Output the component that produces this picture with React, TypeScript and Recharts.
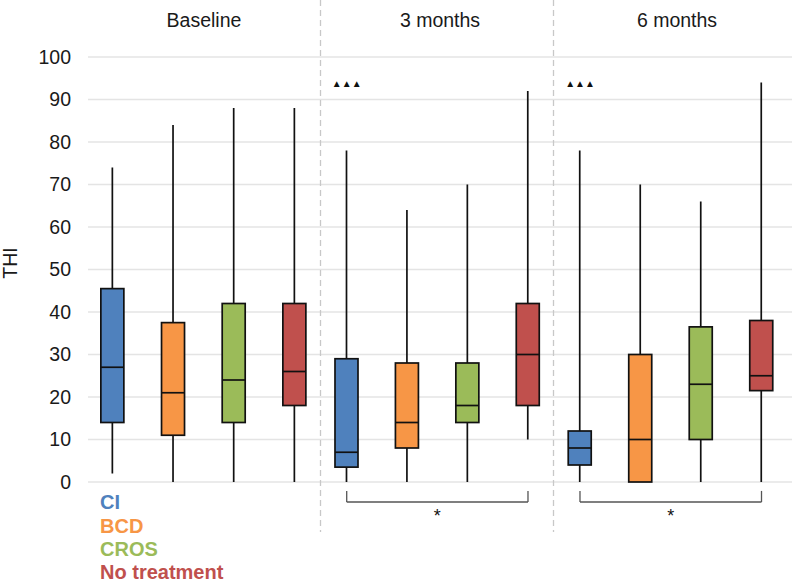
import React from 'react';
import { ComposedChart, Bar, XAxis, YAxis, CartesianGrid, ReferenceLine, ReferenceDot } from 'recharts';

const groups = ['CI', 'BCD', 'CROS', 'No treatment'];
const periods = ['Baseline', '3 months', '6 months'];

// five-number summaries per group: [low whisker, Q1, median, Q3, high whisker]
const baseline = [
    [2, 14, 27, 45.5, 74],
    [0, 11, 21, 37.5, 84],
    [0, 14, 24, 42, 88],
    [0, 18, 26, 42, 88],
];
const threeMonths = [
    [0, 3.5, 7, 29, 78],
    [0, 8, 14, 28, 64],
    [0, 14, 18, 28, 70],
    [10, 18, 30, 42, 92],
];
const sixMonths = [
    [0, 4, 8, 12, 78],
    [0, 0, 10, 30, 70],
    [0, 10, 23, 36.5, 66],
    [0, 21.5, 25, 38, 94],
];
const periodStats = [baseline, threeMonths, sixMonths];

const yTicks = [0, 10, 20, 30, 40, 50, 60, 70, 80, 90, 100];
const COLORS: Record<string, string> = {
    CI: '#4F81BD',
    BCD: '#F79646',
    CROS: '#9BBB59',
    'No treatment': '#C0504D',
};

const W = 792;
const H = 581;
const TOP = 57;
const BOTTOM = 482;
const FONT = '"Liberation Sans", Arial, sans-serif';

const panels = [
    { left: 0, width: 320, yAxis: true, domain: [-0.407, 3.417], bracket: false },
    { left: 320, width: 233, yAxis: false, domain: [-0.442, 3.414], bracket: true },
    { left: 553, width: 239, yAxis: false, domain: [-0.446, 3.504], bracket: true },
];

const BoxShape = (props: any) => {
    const { x, y, width, height, payload } = props;
    const cx = x + width / 2;
    const k = height / (payload.hi - payload.lo);
    const yv = (v: number) => y + (payload.hi - v) * k;
    const bw = 23;
    return (
        <g>
            <line x1={cx} x2={cx} y1={y} y2={y + height} stroke="#111" strokeWidth={1.7} />
            <rect
                x={cx - bw / 2}
                y={yv(payload.q3)}
                width={bw}
                height={yv(payload.q1) - yv(payload.q3)}
                fill={COLORS[payload.group]}
                stroke="#111"
                strokeWidth={1.7}
            />
            <line x1={cx - bw / 2} x2={cx + bw / 2} y1={yv(payload.med)} y2={yv(payload.med)} stroke="#111" strokeWidth={1.7} />
        </g>
    );
};

const TextMark = (txt: string, size: number, dy: number) => (p: any) => (
    <text x={p.cx} y={p.cy + dy} textAnchor="middle" fontSize={size} fontFamily={FONT} fill="#111">
        {txt}
    </text>
);

const Panel = ({ idx }: { idx: number }) => {
    const p = panels[idx];
    const rows = periodStats[idx].map((s, i) => ({
        group: groups[i],
        pos: i,
        lo: s[0],
        q1: s[1],
        med: s[2],
        q3: s[3],
        hi: s[4],
    }));
    return (
        <div style={{ position: 'absolute', left: p.left, top: 0 }}>
            <ComposedChart width={p.width} height={H} data={rows} margin={{ top: TOP, right: 0, bottom: H - BOTTOM, left: 0 }}>
                <CartesianGrid vertical={false} stroke="#e4e4e4" strokeWidth={1.3} />
                <XAxis type="number" dataKey="pos" domain={p.domain} allowDataOverflow hide />
                <YAxis
                    type="number"
                    domain={[0, 100]}
                    ticks={yTicks}
                    hide={!p.yAxis}
                    width={88}
                    axisLine={false}
                    tickLine={false}
                    tickSize={0}
                    tickMargin={17}
                    tick={{ fontSize: 19.5, fill: '#1a1a1a', fontFamily: FONT }}
                />
                <Bar
                    dataKey={(d: any) => [d.lo, d.hi]}
                    barSize={24}
                    shape={BoxShape}
                    isAnimationActive={false}
                />
                {idx > 0 && (
                    <ReferenceDot x={0} y={94} r={0} ifOverflow="visible" shape={TextMark('▲▲▲', 10, 4)} />
                )}
                {p.bracket && (
                    <ReferenceLine segment={[{ x: 0, y: -2.1 }, { x: 0, y: -4.7 }]} stroke="#555" strokeWidth={1.3} ifOverflow="visible" />
                )}
                {p.bracket && (
                    <ReferenceLine segment={[{ x: 0, y: -4.7 }, { x: 3, y: -4.7 }]} stroke="#555" strokeWidth={1.3} ifOverflow="visible" />
                )}
                {p.bracket && (
                    <ReferenceLine segment={[{ x: 3, y: -2.1 }, { x: 3, y: -4.7 }]} stroke="#555" strokeWidth={1.3} ifOverflow="visible" />
                )}
                {p.bracket && (
                    <ReferenceDot x={1.5} y={-7.1} r={0} ifOverflow="visible" shape={TextMark('*', 18, 10)} />
                )}
            </ComposedChart>
        </div>
    );
};

const titleX = [204, 440, 677];
const dividerX = [320.5, 553.5];
const legendY = [509, 532.5, 556, 578.5];

export default function App() {
    return (
        <div style={{ position: 'absolute', left: 0, top: 0, width: W, height: H, background: '#fff', overflow: 'hidden' }}>
            {periods.map((_, i) => (
                <Panel key={i} idx={i} />
            ))}
            <svg width={W} height={H} style={{ position: 'absolute', left: 0, top: 0, pointerEvents: 'none' }}>
                {dividerX.map((x) => (
                    <line key={x} x1={x} x2={x} y1={0} y2={532} stroke="#c8c8c8" strokeWidth={1.3} strokeDasharray="6 4" />
                ))}
                {periods.map((t, i) => (
                    <text key={t} x={titleX[i]} y={27} textAnchor="middle" fontSize={19.5} fontFamily={FONT} fill="#1a1a1a">
                        {t}
                    </text>
                ))}
                <text transform="translate(17,263) rotate(-90)" textAnchor="middle" fontSize={19.5} fontFamily={FONT} fill="#1a1a1a">
                    THI
                </text>
                {groups.map((g, i) => (
                    <text key={g} x={100} y={legendY[i]} fontSize={20} fontWeight="bold" fontFamily={FONT} fill={COLORS[g]}>
                        {g}
                    </text>
                ))}
            </svg>
        </div>
    );
}
